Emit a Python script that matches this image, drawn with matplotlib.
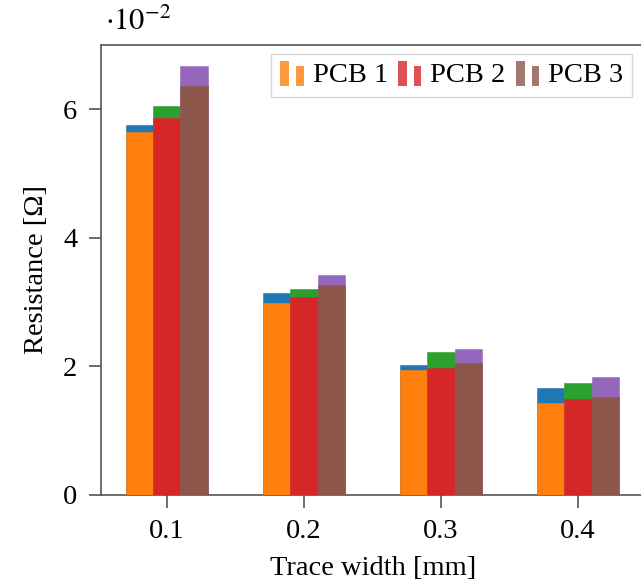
import matplotlib
matplotlib.use("Agg")
import matplotlib.pyplot as plt
from matplotlib.patches import Rectangle
from matplotlib.legend_handler import HandlerBase
import numpy as np

plt.rcParams['font.family'] = ['Liberation Serif', 'DejaVu Serif']
plt.rcParams['mathtext.fontset'] = 'stix'

widths = [0.1, 0.2, 0.3, 0.4]
labels = ["0.1", "0.2", "0.3", "0.4"]
series = ["PCB 1", "PCB 2", "PCB 3"]
# values in units of 1e-2 Ohm
back_vals = [
    [5.75, 3.14, 2.03, 1.66],   # PCB 1 (blue)
    [6.05, 3.21, 2.23, 1.74],   # PCB 2 (green)
    [6.67, 3.43, 2.27, 1.83],   # PCB 3 (purple)
]
front_vals = [
    [5.65, 2.98, 1.94, 1.43],   # PCB 1 (orange)
    [5.87, 3.08, 1.97, 1.49],   # PCB 2 (red)
    [6.37, 3.27, 2.05, 1.52],   # PCB 3 (brown)
]
back_colors = ["#1f77b4", "#2ca02c", "#9467bd"]
front_colors = ["#ff7f0e", "#d62728", "#8c564b"]

FS = 20.5

fig = plt.figure(figsize=(6.41, 5.84), dpi=100)
ax = fig.add_axes([101/641, (584-495)/584, (645-101)/641, (495-45)/584])

bw = 0.02
offsets = [-0.02, 0.0, 0.02]
x = np.array(widths)
for i in range(3):
    ax.bar(x + offsets[i], back_vals[i], width=bw, color=back_colors[i], zorder=2,
           edgecolor=back_colors[i], linewidth=0.4)
    ax.bar(x + offsets[i], front_vals[i], width=bw, color=front_colors[i], zorder=3,
           edgecolor=front_colors[i], linewidth=0.4)

ax.set_xlim(0.052, 0.449)
ax.set_ylim(0, 7)
ax.set_xticks(widths)
ax.set_xticklabels(labels)
ax.set_yticks([0, 2, 4, 6])
ax.set_yticklabels(["0", "2", "4", "6"])
ax.tick_params(axis='both', direction='out', length=9, width=1.2, color='#555555',
               labelsize=FS, pad=8)
for s in ax.spines.values():
    s.set_color('#555555')
    s.set_linewidth(1.2)

ax.set_xlabel("Trace width [mm]", fontsize=FS, labelpad=9)
ax.set_ylabel("Resistance [Ω]", fontsize=FS, labelpad=10)
fig.text(105/641, 1 - 22/584, r"$\cdot 10^{-2}$", fontsize=22, ha='left', va='center')


class TwoBarHandler(HandlerBase):
    def __init__(self, color):
        super().__init__()
        self.color = color

    def create_artists(self, legend, orig_handle, xdescent, ydescent, width, height, fontsize, trans):
        y0 = -ydescent - height * 0.2
        r1 = Rectangle((-xdescent, y0), width * 0.37, height * 1.3, facecolor=self.color,
                       alpha=0.8, linewidth=0, transform=trans)
        r2 = Rectangle((-xdescent + width * 0.68, y0), width * 0.3, height * 1.05,
                       facecolor=self.color, alpha=0.8, linewidth=0, transform=trans)
        return [r1, r2]


handles = [Rectangle((0, 0), 1, 1) for _ in series]
leg = ax.legend(handles, series, loc='upper right', ncol=3, fontsize=FS,
                handler_map={handles[i]: TwoBarHandler(front_colors[i]) for i in range(3)},
                handlelength=0.85, handletextpad=0.3, columnspacing=0.35,
                frameon=True, fancybox=False, edgecolor='#cccccc', borderpad=0.3,
                borderaxespad=0,
                bbox_to_anchor=(632/641, 1 - 54/584), bbox_transform=fig.transFigure)
leg.get_frame().set_linewidth(1.0)

fig.savefig("out.png", dpi=100)
